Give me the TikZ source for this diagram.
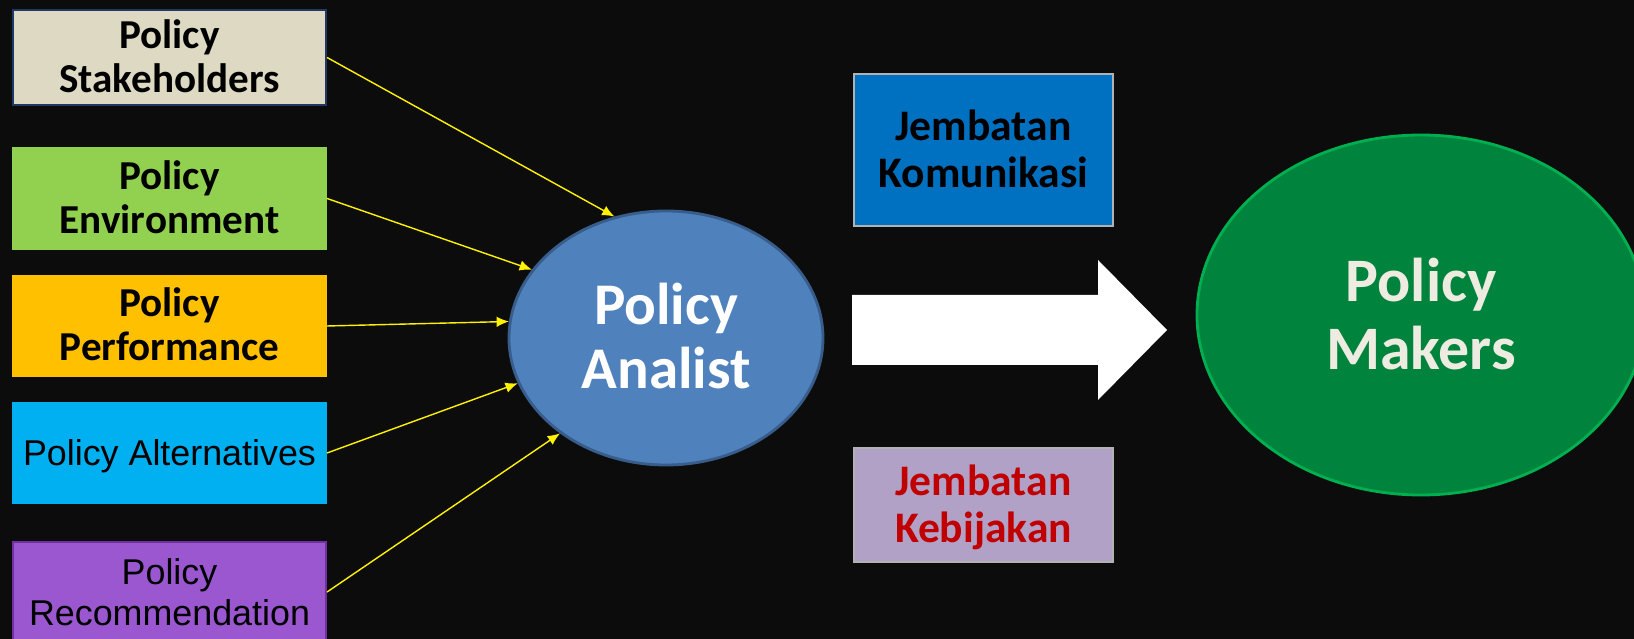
\documentclass[tikz,border=0pt]{standalone}
\usepackage{fontspec}
\setmainfont{Carlito}
\newfontfamily\arialfont{Liberation Sans}
\usepackage{tikz}
\usetikzlibrary{shapes.geometric}
\usetikzlibrary{arrows.meta}
\definecolor{bgblack}{HTML}{0C0C0C}
\definecolor{sandfill}{HTML}{DDD9C3}
\definecolor{navyline}{HTML}{1F3864}
\definecolor{greenfill}{HTML}{92D050}
\definecolor{orangefill}{HTML}{FFC000}
\definecolor{cyanfill}{HTML}{00B0F0}
\definecolor{purplefill}{HTML}{9A57D0}
\definecolor{purpleline}{HTML}{7030A0}
\definecolor{analistfill}{HTML}{4F81BD}
\definecolor{analistline}{HTML}{385D8A}
\definecolor{bridgeblue}{HTML}{0070C0}
\definecolor{bridgelilac}{HTML}{B2A1C7}
\definecolor{bridgered}{HTML}{C00000}
\definecolor{makersfill}{HTML}{00843D}
\definecolor{makersline}{HTML}{00B050}
\definecolor{makerstext}{HTML}{EEECE1}
\newcommand{\lines}[2][-1.1pt]{\raisebox{#1}[\height][\depth]{\begin{tabular}{@{}c@{}}#2\end{tabular}}}

\tikzset{
  inbox/.style={rectangle, minimum width=31.3mm, minimum height=10mm, inner sep=0pt,
    line width=0.6pt, font=\fontsize{11.7}{12.5}\selectfont\bfseries},
  arialbox/.style={inbox, font=\arialfont\fontsize{10.2}{11.5}\selectfont},
  bridge/.style={rectangle, minimum width=25.9mm, inner sep=0pt, draw=gray!60,
    line width=0.6pt, font=\fontsize{12.4}{13.2}\selectfont\bfseries},
  conn/.style={draw=yellow, line width=0.4pt, ->, >={Latex[length=3.5pt,width=3pt]}}
}

\begin{document}
\begin{tikzpicture}[x=1mm,y=-1mm]
  \path[use as bounding box, fill=bgblack] (0,0) rectangle (163.4,63.9);

  \node[inbox, fill=sandfill, draw=navyline, minimum height=9.5mm] (sh) at (16.95,5.75) {\lines{Policy\\Stakeholders}};
  \node[inbox, fill=greenfill, draw=greenfill, minimum height=10.1mm] (env) at (16.95,19.85) {\lines{Policy\\Environment}};
  \node[inbox, fill=orangefill, draw=orangefill] (perf) at (16.95,32.6) {\lines{Policy\\Performance}};
  \node[arialbox, fill=cyanfill, draw=cyanfill] (alt) at (16.95,45.3) {\lines[-1.35pt]{Policy Alternatives}};
  \node[arialbox, fill=purplefill, draw=purpleline] (rec) at (16.95,59.2) {\lines[-1.35pt]{Policy\\Recommendation}};

  \node[ellipse, fill=analistfill, draw=analistline, line width=0.8pt, minimum width=31.4mm, minimum height=25.4mm,
    inner sep=0pt, text=white, font=\fontsize{16.8}{18.2}\selectfont\bfseries] (analist) at (66.6,33.8) {\lines[-1.7pt]{Policy\\Analist}};

  \node[bridge, fill=bridgeblue, minimum height=15.2mm] (komunikasi) at (98.35,15.0) {\lines[-1.35pt]{Jembatan\\Komunikasi}};
  \node[bridge, fill=bridgelilac, minimum height=11.4mm, text=bridgered] (kebijakan) at (98.35,50.5) {\lines[-1.35pt]{Jembatan\\Kebijakan}};

  \fill[white] (85.2,29.5) -- (109.8,29.5) -- (109.8,26.0) -- (116.7,33.0) -- (109.8,40.0) -- (109.8,36.5) -- (85.2,36.5) -- cycle;

  \node[ellipse, fill=makersfill, draw=makersline, line width=0.8pt, minimum width=44.8mm, minimum height=36mm,
    inner sep=0pt, text=makerstext, font=\fontsize{17.6}{19.3}\selectfont\bfseries] (makers) at (142.1,31.5) {\lines[-2pt]{Policy\\Makers}};

  \draw[conn] (sh.east) -- (analist.113);
  \draw[conn] (env.east) -- (analist.153);
  \draw[conn] (perf.east) -- (analist.174);
  \draw[conn] (alt.east) -- (analist.197);
  \draw[conn] (rec.east) -- (analist.222);
\end{tikzpicture}
\end{document}
